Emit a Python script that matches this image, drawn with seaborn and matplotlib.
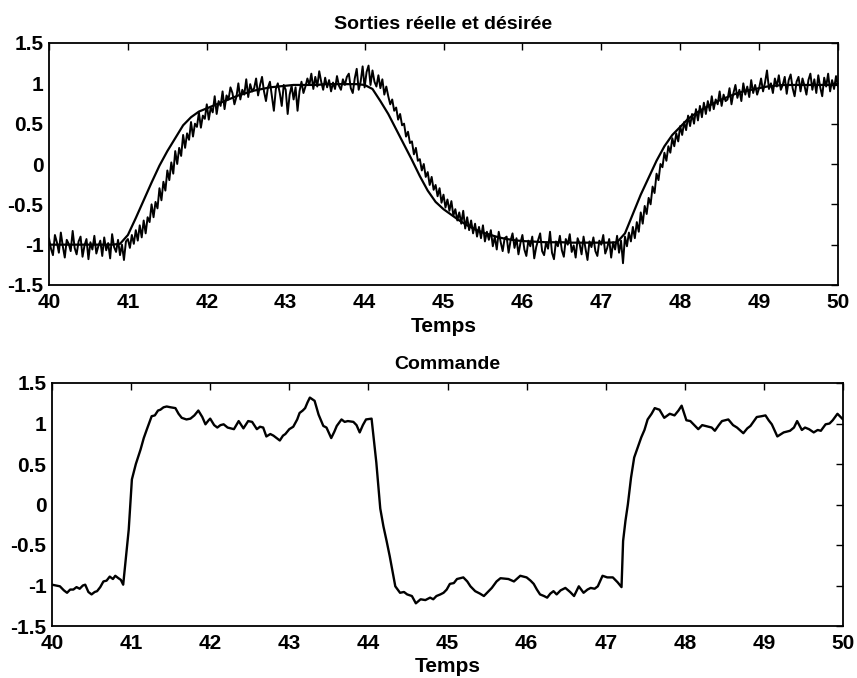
import numpy as np
import pandas as pd
import matplotlib
matplotlib.use("Agg")
import matplotlib.pyplot as plt
import seaborn as sns

# ---------------- data ----------------
# desired output, sampled every 0.1 s from 40.0 to 50.0
t_des = [round(40 + 0.1 * i, 3) for i in range(101)]
y_des = [-1.0, -1.0, -1.0, -1.0, -1.0, -1.0, -1.0, -1.0, -1.0, -0.99,
         -0.88, -0.67, -0.45, -0.23, -0.02, 0.16, 0.32, 0.48, 0.58, 0.65,
         0.69, 0.73, 0.77, 0.81, 0.85, 0.88, 0.91, 0.93, 0.95, 0.96,
         0.97, 0.98, 0.98, 0.98, 0.98, 0.99, 0.99, 0.99, 0.99, 0.99,
         0.98, 0.93, 0.78, 0.62, 0.43, 0.24, 0.05, -0.15, -0.33, -0.47,
         -0.56, -0.63, -0.70, -0.76, -0.81, -0.85, -0.88, -0.91, -0.93, -0.945,
         -0.955, -0.96, -0.965, -0.97, -0.97, -0.97, -0.975, -0.975, -0.975, -0.975,
         -0.975, -0.975, -0.97, -0.86, -0.62, -0.38, -0.17, 0.04, 0.22, 0.36,
         0.46, 0.56, 0.63, 0.69, 0.74, 0.79, 0.83, 0.87, 0.90, 0.92,
         0.94, 0.96, 0.97, 0.98, 0.98, 0.98, 0.98, 0.98, 0.98, 0.98,
         0.98]

# actual (noisy) output, sampled every 0.025 s from 40.0 to 50.0
t_act = [round(40 + 0.025 * i, 3) for i in range(401)]
y_act = [
    # 40.0 - 40.975
    -0.92, -1.05, -1.13, -0.88, -0.97, -1.10, -0.85, -1.02, -1.16, -0.94,
    -0.99, -1.08, -0.83, -1.04, -1.12, -0.96, -0.90, -1.15, -1.01, -0.93,
    -1.18, -0.97, -1.06, -0.89, -1.11, -1.02, -0.95, -1.14, -0.91, -1.07,
    -0.98, -1.17, -0.87, -1.03, -1.09, -0.94, -1.13, -1.00, -1.19, -0.96,
    # 41.0 - 41.975
    -0.93, -1.04, -0.88, -0.99,  -0.82, -0.95, -0.76, -0.91,  -0.70, -0.86, -0.66, -0.72,
    -0.50, -0.66, -0.47, -0.55,  -0.30, -0.45, -0.22, -0.33,  -0.08, -0.20, 0.02, -0.12,
    0.16, 0.00, 0.20, 0.10,  0.36, 0.20, 0.38, 0.30,  0.52, 0.34, 0.50, 0.46,
    0.64, 0.45, 0.60, 0.56,
    # 42.0 - 42.975
    0.74, 0.55, 0.70, 0.64,  0.84, 0.62, 0.78, 0.72,  0.90, 0.68, 0.85, 0.80,
    0.95, 0.88, 0.74, 0.83,  1.00, 0.80, 0.92, 0.86,  1.05, 0.83, 0.99, 0.90,
    0.94, 1.06, 0.85, 0.98,  1.08, 0.90, 0.78, 0.95,  1.02, 0.84, 0.66, 0.93,
    1.00, 0.88, 0.72, 0.98,
    # 43.0 - 43.975
    0.92, 0.62, 0.86, 0.97,  0.80, 0.95, 0.66, 0.90,  1.02, 0.88, 0.96, 1.06,
    0.98, 1.12, 0.93, 1.08,  0.96, 1.15, 1.02, 0.92,  1.07, 0.95, 1.04, 0.90,
    1.01, 0.93, 1.09, 0.97,  0.92, 1.05, 0.98, 1.08,  1.12, 0.94, 0.88, 1.06,
    1.18, 0.92, 1.02, 1.21,
    # 44.0 - 44.975
    0.95, 1.14, 1.22, 0.98,  1.16, 1.02, 0.96, 1.10,  0.94, 1.05, 0.86, 0.96,
    0.84, 0.74, 0.80, 0.66,  0.70, 0.55, 0.62, 0.48,  0.50, 0.34, 0.40, 0.26,
    0.28, 0.12, 0.20, 0.04,  0.06, -0.08, 0.00, -0.16,  -0.10, -0.26, -0.16, -0.32,
    -0.26, -0.40, -0.30, -0.48,
    # 45.0 - 45.975
    -0.38, -0.54, -0.44, -0.58,  -0.46, -0.64, -0.56, -0.70,  -0.60, -0.74, -0.58, -0.80,
    -0.66, -0.82, -0.70, -0.86,  -0.74, -0.90, -0.78, -0.92,  -0.76, -0.96, -0.84, -0.94,
    -0.82, -1.02, -0.90, -1.06,  -0.84, -0.97, -1.08, -0.92,  -0.90, -1.10, -0.95, -0.86,
    -1.04, -0.92, -1.12, -0.98,
    # 46.0 - 46.975
    -0.88, -1.06, -1.14, -0.95,  -1.02, -0.90, -1.17, -1.03,  -0.94, -0.86, -1.08, -1.13,
    -0.97, -1.05, -0.84, -1.10,  -1.18, -0.96, -1.02, -0.89,  -1.07, -1.15, -0.93, -1.00,
    -0.87, -1.09, -1.01, -1.16,  -0.92, -0.99, -1.12, -0.90,  -1.05, -1.19, -0.96, -1.03,
    -0.91, -1.08, -1.14, -0.95,
    # 47.0 - 47.975
    -1.00, -0.88, -1.11, -1.04,  -0.93, -1.16, -0.97, -1.06,  -0.89, -1.10, -0.95, -1.23,
    -0.90, -1.02, -0.85, -0.96,  -0.78, -0.92, -0.72, -0.84,  -0.60, -0.74, -0.52, -0.62,
    -0.42, -0.50, -0.28, -0.36,  -0.12, -0.20, 0.00, -0.04,  0.14, 0.04, 0.22, 0.14,
    0.32, 0.22, 0.38, 0.28,
    # 48.0 - 48.975
    0.47, 0.36, 0.52, 0.42,  0.60, 0.47, 0.62, 0.50,  0.68, 0.54, 0.72, 0.58,
    0.76, 0.62, 0.78, 0.66,  0.84, 0.68, 0.80, 0.74,  0.90, 0.72, 0.86, 0.78,
    0.80, 0.94, 0.74, 0.88,  0.98, 0.82, 0.92, 0.78,  1.00, 0.86, 0.96, 0.83,
    1.04, 0.88, 0.98, 0.86,
    # 49.0 - 49.975
    0.94, 1.06, 0.90, 1.01,  1.16, 0.93, 1.00, 0.88,  1.06, 0.96, 1.10, 0.92,
    0.98, 1.08, 0.87, 1.04,  1.11, 0.94, 0.84, 1.02,  1.08, 0.90, 1.06, 0.97,
    0.86, 1.04, 1.12, 0.92,  1.05, 0.88, 1.10, 0.95,  0.84, 1.07, 0.96, 1.12,
    0.90, 1.04, 0.93, 1.09,
    # 50.0
    0.96,
]

# command signal (time, value)
t_cmd = [40.0, 40.05, 40.1, 40.15, 40.19, 40.23, 40.27, 40.31, 40.35, 40.39, 40.42, 40.46, 40.5,
         40.54, 40.57, 40.61, 40.65, 40.69, 40.73, 40.77, 40.8, 40.84, 40.87, 40.9, 40.94, 40.97,
         41.01, 41.06, 41.12, 41.16, 41.2, 41.26, 41.3, 41.34, 41.37, 41.41, 41.45, 41.5, 41.56,
         41.6, 41.64, 41.7, 41.75, 41.8, 41.85, 41.9, 41.94, 41.98, 42.0, 42.05, 42.09, 42.13,
         42.17, 42.22, 42.3, 42.36, 42.42, 42.48, 42.53, 42.59, 42.63, 42.67, 42.71, 42.76, 42.8,
         42.84, 42.88, 42.92, 42.95, 43.0, 43.05, 43.1, 43.13, 43.17, 43.2, 43.23, 43.26, 43.29,
         43.32, 43.37, 43.43, 43.47, 43.53, 43.57, 43.6, 43.66, 43.7, 43.74, 43.81, 43.85, 43.89,
         43.93, 43.97, 44.04, 44.1, 44.15, 44.19, 44.23, 44.27, 44.31, 44.34, 44.4, 44.45, 44.49,
         44.55, 44.6, 44.66, 44.72, 44.78, 44.82, 44.86, 44.91, 44.95, 44.99, 45.03, 45.08, 45.12,
         45.2, 45.25, 45.29, 45.35, 45.41, 45.46, 45.51, 45.56, 45.62, 45.67, 45.77, 45.84, 45.92,
         46.0, 46.05, 46.09, 46.13, 46.17, 46.22, 46.26, 46.3, 46.34, 46.38, 46.43, 46.49, 46.55,
         46.6, 46.66, 46.72, 46.77, 46.81, 46.86, 46.9, 46.96, 47.02, 47.09, 47.15, 47.2, 47.22,
         47.25, 47.28, 47.32, 47.36, 47.41, 47.45, 47.49, 47.53, 47.58, 47.62, 47.68, 47.74,
         47.81, 47.87, 47.92, 47.96, 48.02, 48.07, 48.11, 48.17, 48.22, 48.26, 48.34, 48.38,
         48.43, 48.47, 48.55, 48.61, 48.66, 48.74, 48.79, 48.83, 48.91, 48.97, 49.02, 49.06,
         49.1, 49.17, 49.25, 49.33, 49.38, 49.42, 49.48, 49.52, 49.57, 49.63, 49.68, 49.72,
         49.78, 49.83, 49.87, 49.93, 49.98, 50.0]
y_cmd = [-0.99, -1.0, -1.01, -1.06, -1.09, -1.05, -1.05, -1.02, -1.04, -1.0, -0.99, -1.08, -1.11,
         -1.08, -1.07, -1.02, -0.95, -0.94, -0.89, -0.92, -0.88, -0.91, -0.93, -0.99, -0.6, -0.31,
         0.31, 0.5, 0.68, 0.82, 0.93, 1.09, 1.1, 1.16, 1.17, 1.2, 1.21, 1.2, 1.19, 1.12,
         1.07, 1.05, 1.06, 1.1, 1.16, 1.08, 0.99, 1.04, 1.06, 0.98, 0.95, 0.98, 0.99, 0.95,
         0.93, 1.03, 0.94, 1.03, 1.02, 0.93, 0.96, 0.95, 0.84, 0.87, 0.85, 0.82, 0.79, 0.85,
         0.87, 0.93, 0.96, 1.05, 1.13, 1.16, 1.19, 1.26, 1.32, 1.3, 1.28, 1.11, 0.97, 0.95,
         0.82, 0.9, 0.97, 1.05, 1.02, 1.03, 1.02, 0.98, 0.89, 0.98, 1.05, 1.06, 0.52, -0.05,
         -0.27, -0.45, -0.64, -0.85, -1.01, -1.09, -1.08, -1.11, -1.13, -1.22, -1.17, -1.18,
         -1.15, -1.17, -1.13, -1.11, -1.09, -1.05, -0.98, -0.97, -0.92, -0.9, -0.95, -1.01,
         -1.07, -1.1, -1.13, -1.08, -1.03, -0.95, -0.91, -0.92, -0.95, -0.88, -0.9, -0.94,
         -0.98, -1.05, -1.11, -1.13, -1.15, -1.1, -1.07, -1.11, -1.06, -1.03, -1.08, -1.13,
         -1.01, -1.09, -1.05, -1.03, -1.04, -1.01, -0.88, -0.9, -0.9, -0.96, -1.02, -0.45,
         -0.2, 0.0, 0.33, 0.58, 0.72, 0.83, 0.92, 1.05, 1.12, 1.19, 1.17, 1.07, 1.12, 1.1,
         1.16, 1.22, 1.04, 1.03, 0.99, 0.93, 0.98, 0.97, 0.95, 0.91, 0.98, 1.03, 1.05, 0.98,
         0.95, 0.88, 0.94, 0.97, 1.08, 1.09, 1.1, 1.04, 0.99, 0.84, 0.89, 0.91, 0.95, 1.03,
         0.92, 0.95, 0.93, 0.89, 0.92, 0.91, 0.99, 1.0, 1.04, 1.12, 1.07, 1.05]

x_ticks = [40, 41, 42, 43, 44, 45, 46, 47, 48, 49, 50]
y_ticks = [-1.5, -1, -0.5, 0, 0.5, 1, 1.5]
y_ticklabels = ["-1.5", "-1", "-0.5", "0", "0.5", "1", "1.5"]

title_top = "Sorties réelle et désirée"
title_bot = "Commande"
x_label = "Temps"

# ---------------- figure ----------------
sns.set_theme(style="white")
plt.rcParams["font.family"] = ["Liberation Sans", "DejaVu Sans"]
plt.rcParams["font.weight"] = "bold"
plt.rcParams["text.color"] = "black"
plt.rcParams["axes.labelcolor"] = "black"
plt.rcParams["axes.titlecolor"] = "black"

W, H = 857, 678
fig = plt.figure(figsize=(W / 100, H / 100), dpi=100)
fig.patch.set_facecolor("white")

ax1 = fig.add_axes([49 / W, 1 - 285 / H, (838 - 49) / W, (285 - 43) / H])
ax2 = fig.add_axes([52 / W, 1 - 626 / H, (843 - 52) / W, (626 - 383) / H])

df_des = pd.DataFrame({"t": t_des, "y": y_des})
df_act = pd.DataFrame({"t": t_act, "y": y_act})
df_cmd = pd.DataFrame({"t": t_cmd, "y": y_cmd})

sns.lineplot(data=df_act, x="t", y="y", ax=ax1, color="black", linewidth=1.4,
             estimator=None, sort=False)
sns.lineplot(data=df_des, x="t", y="y", ax=ax1, color="black", linewidth=1.6,
             estimator=None, sort=False)
sns.lineplot(data=df_cmd, x="t", y="y", ax=ax2, color="black", linewidth=1.7,
             estimator=None, sort=False)

for ax, ttl in ((ax1, title_top), (ax2, title_bot)):
    ax.set_xlim(40, 50)
    ax.set_ylim(-1.5, 1.5)
    ax.set_xticks(x_ticks)
    ax.set_xticklabels([str(v) for v in x_ticks])
    ax.set_yticks(y_ticks)
    ax.set_yticklabels(y_ticklabels)
    ax.tick_params(axis="both", direction="in", length=5, width=1.0,
                   top=True, right=True, labelsize=15, colors="black", pad=4)
    ax.tick_params(axis="x", pad=6)
    for lab in ax.get_xticklabels() + ax.get_yticklabels():
        lab.set_fontweight("bold")
    for sp in ax.spines.values():
        sp.set_visible(True)
        sp.set_color("black")
        sp.set_linewidth(1.3)
    ax.set_xlabel(x_label, fontsize=15, fontweight="bold", labelpad=3, color="black")
    ax.set_ylabel("")
    ax.set_title(ttl, fontsize=14, fontweight="bold", pad=10, color="black")
    ax.set_facecolor("white")

fig.savefig("out.png", dpi=100, facecolor="white")
